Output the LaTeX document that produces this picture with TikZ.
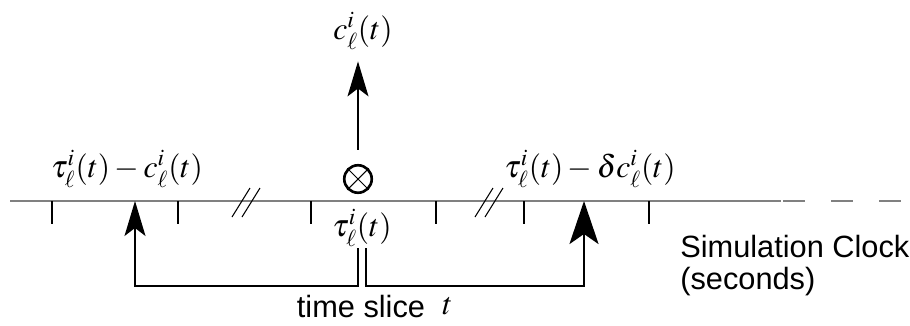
\documentclass[tikz,border=0pt]{standalone}
\usepackage{mathptmx}
\usepackage{fontspec}
\setsansfont{Liberation Sans}
\usetikzlibrary{arrows.meta,positioning}
\tikzset{
  axis/.style={gray, line width=1pt},
  tick/.style={black, line width=0.6pt},
  lab/.style={inner sep=1pt, font=\fontsize{18}{21}\selectfont},
  txt/.style={inner sep=0pt, font=\sffamily\fontsize{17.5}{18}\selectfont},
  xmark/.style={circle, draw, line width=1.5pt, minimum size=0.55cm, inner sep=0pt},
  thinarrow/.style={line width=0.7pt, -{Stealth[length=0.7cm, width=0.42cm, inset=0.16cm]}},
  thickarrow/.style={line width=1.6pt, -{Stealth[length=0.86cm, width=0.58cm, inset=0.2cm]}},
}
\begin{document}
\begin{tikzpicture}[x=0.02cm, y=-0.02cm]
  \useasboundingbox (0,0) rectangle (910,325);
  % time axis with ticks and breaks
  \draw[axis] (10,201) -- (781,201);
  \foreach \x in {783,831,879} \draw[axis] (\x,201) -- ++(22,0);
  \foreach \x in {52,178,311,436,524,649} \draw[tick] (\x,201) -- ++(0,23);
  \draw[tick] (232,217) -- (250,188);
  \draw[tick] (242,217) -- (260,188);
  \draw[tick] (475,217) -- (493,188);
  \draw[tick] (485,217) -- (503,188);
  % points on the axis
  \coordinate (tL) at (135,201);
  \coordinate (tR) at (584,201);
  % labels
  \node[lab] (cTop) at (363,31) {$c_\ell^i(t)$};
  \node[xmark] (cross) at (358,179) {};
  \draw[line width=0.6pt] (cross.north west) -- (cross.south east);
  \draw[line width=0.6pt] (cross.north east) -- (cross.south west);
  \node[lab] (diffL) at (127,169) {$\tau_\ell^i(t)-c_\ell^i(t)$};
  \node[lab] (tauC) at (362,228) {$\tau_\ell^i(t)$};
  \node[lab] (diffR) at (590,169) {$\tau_\ell^i(t)-\delta c_\ell^i(t)$};
  \node[txt] (slice) at (361,307) {time slice};
  \node[lab, anchor=base west, xshift=0.3cm, yshift=0.06cm] (sliceT) at (slice.base east) {$t$};
  \node[txt, align=left, anchor=north west] (clock) at (680,235) {Simulation Clock\\(seconds)};
  % arrows
  \draw[thinarrow, shorten >=0.2cm] (cross.north) ++(0,-14) -- (cross.north |- cTop.south);
  \coordinate (sliceL) at (358,248);
  \coordinate (sliceR) at (366,248);
  \draw[thinarrow] (sliceL) -- ++(0,38) -| (tL);
  \draw[thickarrow] (sliceR) -- ++(0,38) -| (tR);
\end{tikzpicture}
\end{document}
